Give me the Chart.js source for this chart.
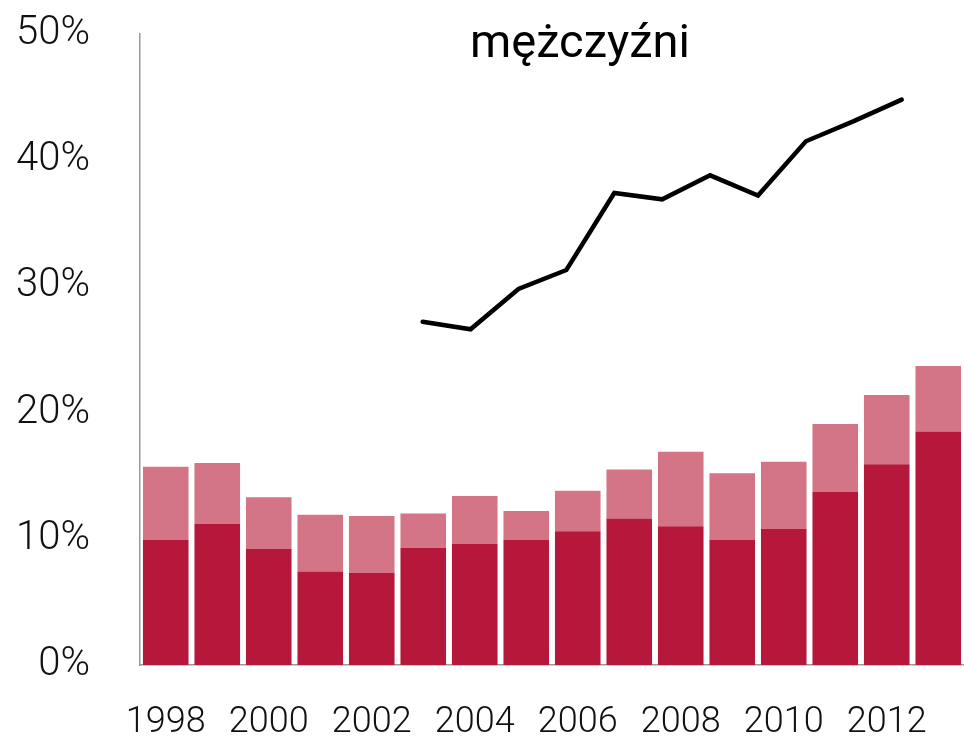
<!DOCTYPE html>
<html>
<head>
<meta charset="utf-8">
<script src="https://cdn.jsdelivr.net/npm/chart.js@4"></script>
<style>
  html, body { margin: 0; padding: 0; background: #fff; }
  .wrap { position: relative; width: 964px; height: 745px; }
  .title {
    position: absolute;
    left: 470px;
    top: 17px;
    font: 400 47px Roboto, sans-serif;
    line-height: 1;
    color: #000;
    white-space: nowrap;
  }
</style>
</head>
<body>
<div class="wrap">
  <canvas id="chart" width="964" height="745"></canvas>
  <div class="title">mężczyźni</div>
</div>
<script>
  const years = ["1998", "1999", "2000", "2001", "2002", "2003", "2004", "2005",
                 "2006", "2007", "2008", "2009", "2010", "2011", "2012", "2013"];

  // lower (dark) part of each bar, %
  const darkPart = [9.9, 11.2, 9.2, 7.4, 7.3, 9.3, 9.6, 9.9, 10.6, 11.6, 11.0, 9.9, 10.8, 13.7, 15.9, 18.5];
  // upper (light) part stacked on top, %
  const lightPart = [5.8, 4.8, 4.1, 4.5, 4.5, 2.7, 3.8, 2.3, 3.2, 3.9, 5.9, 5.3, 5.3, 5.4, 5.5, 5.2];

  const lineYears = [2003, 2004, 2005, 2006, 2007, 2008, 2009, 2010, 2011, 2012, 2013];
  const lineValues = [27.2, 26.6, 29.8, 31.3, 37.4, 36.9, 38.8, 37.2, 41.5, 43.1, 44.8];

  const yTicks = [0, 10, 20, 30, 40, 50];

  const axisGray = "#9a9a9a";

  new Chart(document.getElementById("chart"), {
    type: "bar",
    data: {
      labels: years,
      datasets: [
        {
          label: "dark",
          data: darkPart,
          backgroundColor: "#b5183a",
          order: 2
        },
        {
          label: "light",
          data: lightPart,
          backgroundColor: "#d47587",
          order: 2
        },
        {
          type: "line",
          label: "line",
          data: lineYears.map((yr, i) => ({ x: yr, y: lineValues[i] })),
          xAxisID: "xl",
          borderColor: "#000",
          borderWidth: 4.5,
          borderJoinStyle: "miter",
          borderCapStyle: "round",
          pointRadius: 0,
          fill: false,
          tension: 0,
          order: 1
        }
      ]
    },
    options: {
      responsive: false,
      animation: false,
      datasets: {
        bar: { barPercentage: 1, categoryPercentage: 0.885, grouped: false }
      },
      layout: {
        padding: { top: 34, left: 0, right: 0, bottom: 0 }
      },
      plugins: {
        legend: { display: false },
        tooltip: { enabled: false },
        title: { display: false }
      },
      scales: {
        x: {
          stacked: true,
          grid: { display: false, drawTicks: false },
          border: { display: true, color: axisGray, width: 1.5 },
          afterFit: scale => {
            scale.height = 80;
            scale.paddingLeft = 0;
            scale.paddingRight = 0;
          },
          ticks: {
            autoSkip: false,
            maxRotation: 0,
            padding: 36,
            color: "#111",
            font: { family: "Roboto", weight: "300", size: 36 },
            callback: (val, idx) => (Number(years[idx]) % 2 === 0 ? years[idx] : "")
          }
        },
        xl: {
          type: "linear",
          display: false,
          offset: false,
          min: 1997.1,
          max: 2014.3
        },
        y: {
          stacked: true,
          min: 0,
          max: 50,
          grid: { display: false, drawTicks: false },
          border: { display: true, color: axisGray, width: 1.5 },
          afterFit: scale => {
            scale.width = 140;
            scale.paddingTop = 0;
            scale.paddingBottom = 0;
          },
          afterBuildTicks: scale => {
            scale.ticks = yTicks.map(v => ({ value: v }));
          },
          ticks: {
            padding: 50,
            color: "#111",
            font: { family: "Roboto", weight: "300", size: 40 },
            callback: v => `${v}%`
          }
        }
      }
    }
  });
</script>
</body>
</html>
